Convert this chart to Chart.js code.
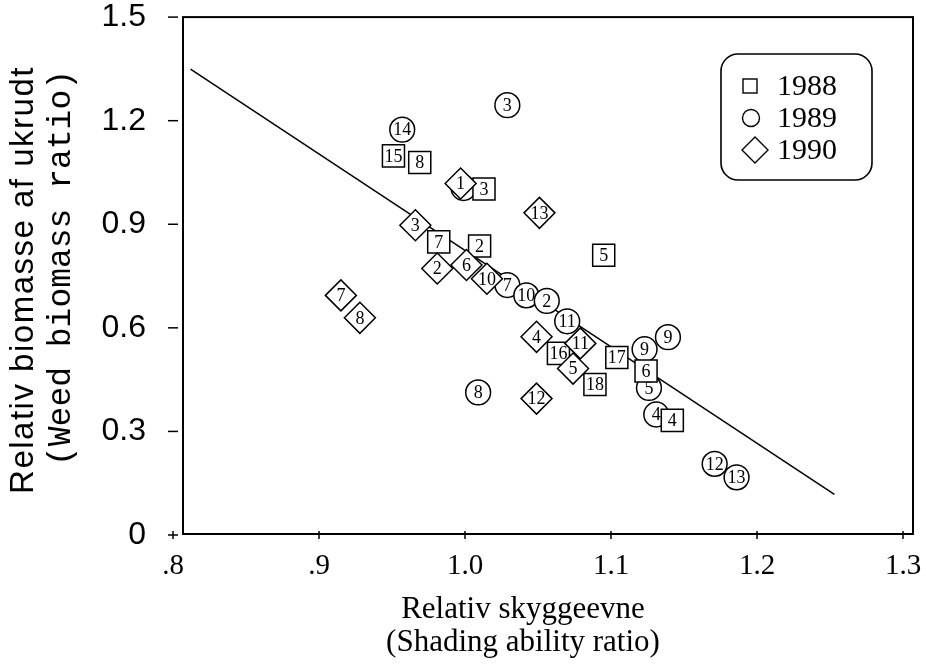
<!DOCTYPE html>
<html>
<head>
<meta charset="utf-8">
<script src="https://cdn.jsdelivr.net/npm/chart.js@4.4.1/dist/chart.umd.min.js"></script>
<style>
  html, body { margin: 0; padding: 0; background: #fff; }
  canvas { display: block; }
</style>
</head>
<body>
<canvas id="plot" width="926" height="665"></canvas>
<script>
// 1988 - squares
const x1988 = [0.951, 0.969, 1.013, 0.982, 1.010, 1.095, 1.064, 1.089, 1.104, 1.124, 1.142];
const y1988 = [1.098, 1.079, 1.002, 0.849, 0.837, 0.810, 0.526, 0.436, 0.514, 0.475, 0.332];
const n1988 = ['15', '8', '3', '7', '2', '5', '16', '18', '17', '6', '4'];

// 1989 - circles
const x1989 = [1.029, 0.957, 0.999, 1.029, 1.042, 1.056, 1.070, 1.123, 1.139, 1.126, 1.131, 1.171, 1.186, 1.009];
const y1989 = [1.245, 1.174, 1.005, 0.724, 0.694, 0.678, 0.619, 0.538, 0.573, 0.426, 0.349, 0.206, 0.167, 0.413];
const n1989 = ['3', '14', '1', '7', '10', '2', '11', '9', '9', '5', '4', '12', '13', '8'];

// 1990 - diamonds
const x1990 = [0.997, 0.966, 1.051, 0.981, 1.001, 1.015, 0.915, 0.928, 1.049, 1.079, 1.074, 1.049];
const y1990 = [1.018, 0.897, 0.933, 0.772, 0.782, 0.742, 0.694, 0.629, 0.574, 0.555, 0.482, 0.395];
const n1990 = ['1', '3', '13', '2', '6', '10', '7', '8', '4', '11', '5', '12'];

// regression line end points
const fitX = [0.812, 1.253];
const fitY = [1.349, 0.118];

const xTicks = [0.8, 0.9, 1.0, 1.1, 1.2, 1.3];
const xTickLabels = ['.8', '.9', '1.0', '1.1', '1.2', '1.3'];
const yTicks = [0, 0.3, 0.6, 0.9, 1.2, 1.5];
const yTickLabels = ['0', '0.3', '0.6', '0.9', '1.2', '1.5'];

const yTitle = ['Relativ biomasse af ukrudt', '(Weed biomass ratio)'];
const xTitle = ['Relativ skyggeevne', '(Shading ability ratio)'];

function points(xs, ys) {
    return xs.map((x, i) => ({ x: x, y: ys[i] }));
}

// frame is drawn a few px right of the 0.8 tick, like the old plot
const frameShift = 10;

const framePlugin = {
    id: 'frame',
    beforeDatasetsDraw(chart) {
        const c = chart.ctx;
        const xs = chart.scales.x, ys = chart.scales.y;
        const a = chart.chartArea;
        c.save();
        c.strokeStyle = '#000';
        c.lineWidth = 2;
        c.strokeRect(a.left + frameShift, a.top, a.right - a.left, a.bottom - a.top - 1);
        c.lineWidth = 1.5;
        const x0 = xs.getPixelForValue(xTicks[0]);
        yTicks.forEach(v => {
            const py = ys.getPixelForValue(v);
            c.beginPath();
            c.moveTo(x0 - 5, py);
            c.lineTo(x0 + 5, py);
            c.stroke();
        });
        xTicks.forEach(v => {
            const px = xs.getPixelForValue(v);
            c.beginPath();
            c.moveTo(px, a.bottom - 4);
            c.lineTo(px, a.bottom + 4);
            c.stroke();
        });
        c.restore();
    }
};

// numbers inside each marker, drawn right after its own dataset
const numberPlugin = {
    id: 'numbers',
    afterDatasetDraw(chart, args) {
        const ds = chart.data.datasets[args.index];
        if (!ds.numbers) return;
        const c = chart.ctx;
        c.save();
        c.fillStyle = '#000';
        c.font = '18px "Liberation Serif"';
        c.textAlign = 'center';
        c.textBaseline = 'middle';
        args.meta.data.forEach((el, i) => {
            c.fillText(ds.numbers[i], el.x, el.y + 1);
        });
        c.restore();
    }
};

const legendPlugin = {
    id: 'boxLegend',
    afterDraw(chart) {
        const c = chart.ctx;
        c.save();
        c.strokeStyle = '#000';
        c.lineWidth = 1.6;
        c.beginPath();
        c.roundRect(721, 54, 151, 126, 17);
        c.stroke();

        c.lineWidth = 1.4;
        // square
        c.strokeRect(743, 79, 14, 14);
        // circle
        c.beginPath();
        c.arc(751, 118, 8.5, 0, Math.PI * 2);
        c.stroke();
        // diamond
        c.beginPath();
        c.moveTo(742, 150);
        c.lineTo(755, 137);
        c.lineTo(768, 150);
        c.lineTo(755, 163);
        c.closePath();
        c.stroke();

        c.fillStyle = '#000';
        c.font = '30px "Liberation Serif"';
        c.textBaseline = 'middle';
        c.textAlign = 'left';
        chart.data.datasets.slice(0, 3).forEach((ds, i) => {
            c.fillText(ds.label, 777, 87 + i * 32);
        });
        c.restore();
    }
};

// axis titles: y title uses two different faces, x title sits a bit left of centre
const titlePlugin = {
    id: 'axisTitles',
    afterDraw(chart) {
        const c = chart.ctx;
        c.save();
        c.fillStyle = '#000';
        c.textAlign = 'center';
        c.textBaseline = 'middle';
        c.translate(24, 280);
        c.rotate(-Math.PI / 2);
        c.font = '33px "Liberation Sans"';
        c.letterSpacing = '1.5px';
        c.fillText(yTitle[0], 0, 0);
        c.restore();

        c.save();
        c.fillStyle = '#000';
        c.textAlign = 'center';
        c.textBaseline = 'middle';
        c.translate(61, 268);
        c.rotate(-Math.PI / 2);
        c.font = '33px "Liberation Mono"';
        c.fillText(yTitle[1], 0, 0);
        c.restore();

        c.save();
        c.fillStyle = '#000';
        c.textAlign = 'center';
        c.textBaseline = 'middle';
        c.font = '31px "Liberation Serif"';
        c.fillText(xTitle[0], 523, 610);
        c.fillText(xTitle[1], 523, 643);
        c.restore();
    }
};

const ctx = document.getElementById('plot').getContext('2d');

const markerStyle = {
    backgroundColor: '#fff',
    borderColor: '#000',
    borderWidth: 1.5,
    pointHoverRadius: 0
};

new Chart(ctx, {
    type: 'scatter',
    data: {
        datasets: [
            Object.assign({
                label: '1988',
                data: points(x1988, y1988),
                numbers: n1988,
                pointStyle: 'rect',
                pointRadius: 15.6,
                order: 2
            }, markerStyle),
            Object.assign({
                label: '1989',
                data: points(x1989, y1989),
                numbers: n1989,
                pointStyle: 'circle',
                pointRadius: 12.4,
                order: 3
            }, markerStyle),
            Object.assign({
                label: '1990',
                data: points(x1990, y1990),
                numbers: n1990,
                pointStyle: 'rectRot',
                pointRadius: 15.5,
                order: 1
            }, markerStyle),
            {
                type: 'line',
                label: 'fit',
                data: points(fitX, fitY),
                borderColor: '#000',
                borderWidth: 1.5,
                pointRadius: 0,
                fill: false,
                order: 9
            }
        ]
    },
    options: {
        responsive: false,
        devicePixelRatio: 1,
        animation: false,
        events: [],
        layout: { padding: { top: 12, right: 23, left: 0, bottom: 0 } },
        plugins: {
            legend: { display: false },
            tooltip: { enabled: false }
        },
        scales: {
            x: {
                type: 'linear',
                min: 0.8,
                max: 1.3,
                afterBuildTicks: s => { s.ticks = xTicks.map(v => ({ value: v })); },
                afterFit: s => {
                    s.height = 130;
                    s.paddingLeft = 0;
                    s.paddingRight = 0;
                },
                grid: { display: false, drawTicks: false },
                border: { display: false },
                ticks: {
                    callback: (v, i) => xTickLabels[i],
                    font: { family: 'Liberation Serif', size: 29 },
                    color: '#000',
                    padding: 14,
                    maxRotation: 0,
                    autoSkip: false
                }
            },
            y: {
                type: 'linear',
                min: 0,
                max: 1.5,
                afterBuildTicks: s => { s.ticks = yTicks.map(v => ({ value: v })); },
                afterFit: s => {
                    s.width = 173;
                    s.paddingTop = 0;
                    s.paddingBottom = 0;
                },
                grid: { display: false, drawTicks: false },
                border: { display: false },
                ticks: {
                    callback: (v, i) => yTickLabels[i],
                    font: { family: 'Liberation Sans', size: 32 },
                    color: '#000',
                    padding: 27,
                    autoSkip: false
                }
            }
        }
    },
    plugins: [framePlugin, numberPlugin, legendPlugin, titlePlugin]
});
</script>
</body>
</html>
